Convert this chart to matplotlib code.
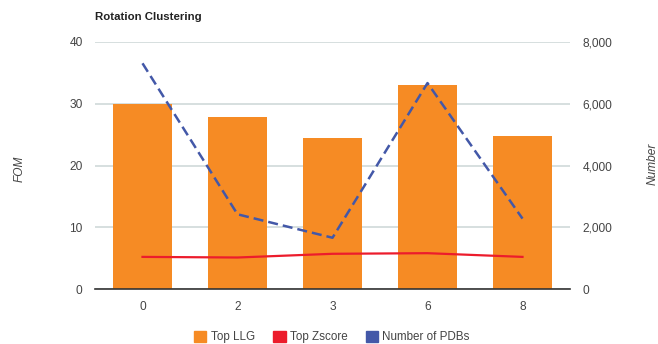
import matplotlib
matplotlib.use("Agg")
import matplotlib.pyplot as plt
from matplotlib.patches import Patch
from matplotlib.ticker import FuncFormatter

plt.rcParams['font.family'] = ['Liberation Sans', 'DejaVu Sans']

categories = ["0", "2", "3", "6", "8"]
top_llg = [30.0, 27.9, 24.5, 33.0, 24.7]
top_zscore = [5.2, 5.1, 5.7, 5.8, 5.2]
num_pdbs = [7310, 2420, 1660, 6670, 2280]

orange = "#f68b24"
red = "#ec1c2c"
blue = "#4358a8"
grid_c = "#d3dcdc"
text_c = "#444444"
fs = 8.6

fig = plt.figure(figsize=(6.58, 3.44), dpi=100)
ax = fig.add_axes([95/658, 1-289/344, 475/658, 247/344])
x = list(range(len(categories)))
ax.bar(x, top_llg, width=0.62, color=orange, zorder=2)
ax.plot(x, top_zscore, color=red, lw=1.6, zorder=3)
ax.set_xlim(-0.5, len(categories)-0.5)
ax.set_ylim(0, 40)
ax.set_yticks([0, 10, 20, 30, 40])
ax.set_xticks(x)
ax.set_xticklabels(categories)
ax.grid(axis='y', color=grid_c, lw=1.3, zorder=0)
for s in ['top', 'right', 'left']:
    ax.spines[s].set_visible(False)
ax.spines['bottom'].set_color('#333333')
ax.spines['bottom'].set_linewidth(1.2)
ax.spines['bottom'].set_zorder(4)
ax.tick_params(axis='both', length=0, labelsize=fs, colors=text_c)
ax.tick_params(axis='y', pad=9)
ax.tick_params(axis='x', pad=9)

ax2 = ax.twinx()
ax2.plot(x, num_pdbs, color=blue, lw=1.8, ls=(0, (4, 2)), zorder=3)
ax2.set_ylim(0, 8000)
ax2.set_yticks([0, 2000, 4000, 6000, 8000])
ax2.yaxis.set_major_formatter(FuncFormatter(lambda v, p: f"{int(v):,}"))
for s in ['top', 'right', 'left', 'bottom']:
    ax2.spines[s].set_visible(False)
ax2.tick_params(axis='y', length=0, labelsize=fs, colors=text_c, pad=9)

fig.text(95/658, 1-17/344, "Rotation Clustering", fontsize=8.2, fontweight='bold',
         color='#222222', va='center', ha='left')
fig.text(20/658, 1-169/344, "FOM", fontsize=fs, style='italic', color=text_c,
         rotation=90, va='center', ha='center')
fig.text(653/658, 1-164/344, "Number", fontsize=fs, style='italic', color=text_c,
         rotation=90, va='center', ha='center')

handles = [Patch(color=orange), Patch(color=red), Patch(color=blue)]
labels = ["Top LLG", "Top Zscore", "Number of PDBs"]
fig.legend(handles, labels, loc='center', bbox_to_anchor=(332/658, 1-337/344),
           ncol=3, frameon=False, fontsize=8.4, handlelength=1.05, handleheight=1.05,
           columnspacing=1.6, handletextpad=0.35, labelcolor=text_c)

fig.savefig("out.png", dpi=100)
